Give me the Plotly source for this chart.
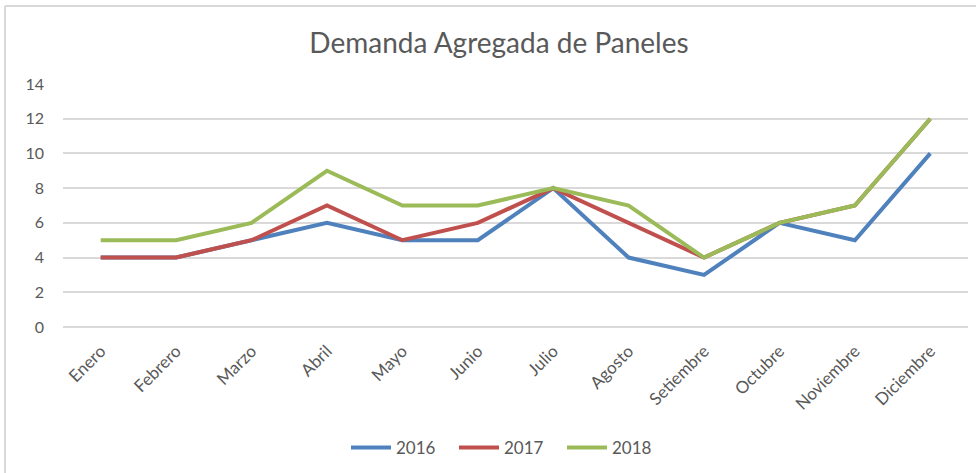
import plotly.graph_objects as go

meses = ["Enero", "Febrero", "Marzo", "Abril", "Mayo", "Junio", "Julio",
         "Agosto", "Setiembre", "Octubre", "Noviembre", "Diciembre"]
d2016 = [4, 4, 5, 6, 5, 5, 8, 4, 3, 6, 5, 10]
d2017 = [4, 4, 5, 7, 5, 6, 8, 6, 4, 6, 7, 12]
d2018 = [5, 5, 6, 9, 7, 7, 8, 7, 4, 6, 7, 12]
series = [("2016", d2016, "#4F81BD"), ("2017", d2017, "#C0504D"), ("2018", d2018, "#9BBB59")]

font_family = "Lato, 'Open Sans', sans-serif"
fig = go.Figure()
for name, vals, col in series:
    fig.add_trace(go.Scatter(x=meses, y=vals, name=name, mode="lines",
                             line=dict(color=col, width=4)))

W, H = 976, 473
l, r, t, b = 63, 8, 84, 146
pw, ph = W - l - r, H - t - b

def px_x(p):
    return (p - l) / pw

def px_y(p):
    return (H - b - p) / ph

fig.update_layout(
    width=W, height=H,
    margin=dict(l=l, r=r, t=t, b=b, autoexpand=False),
    paper_bgcolor="white", plot_bgcolor="white",
    title=dict(text="Demanda Agregada de Paneles", xref="container", x=499 / W, xanchor="center",
               yref="container", y=1 - 43 / H, yanchor="middle",
               font=dict(family=font_family, size=28, color="#595959")),
    font=dict(family=font_family, color="#595959", size=15),
    xaxis=dict(range=[-0.5, 11.5], tickangle=-45, showgrid=False, showline=False,
               ticks="", ticklabelstandoff=10, tickfont=dict(size=17, color="#595959")),
    yaxis=dict(range=[0, 14], dtick=2, showgrid=True, gridcolor="#D9D9D9",
               gridwidth=1.5, zeroline=True, zerolinecolor="#D9D9D9", zerolinewidth=1.5,
               showline=False, ticks="", ticklabelstandoff=18,
               tickfont=dict(size=16, color="#595959")),
    legend=dict(orientation="h", x=px_x(346), xanchor="left", y=px_y(448), yanchor="middle",
                font=dict(size=17, color="#595959"), entrywidth=53, entrywidthmode="pixels",
                itemwidth=40),
    showlegend=True,
)

fig.add_shape(type="line", xref="paper", yref="paper",
              x0=px_x(5), x1=px_x(5), y0=px_y(6), y1=px_y(480),
              line=dict(color="#D9D9D9", width=2))
fig.add_shape(type="line", xref="paper", yref="paper",
              x0=px_x(5), x1=px_x(980), y0=px_y(6), y1=px_y(6),
              line=dict(color="#D9D9D9", width=2))

fig.write_html("out.html", config={"displayModeBar": False},
               post_script="document.body.style.margin='0';document.body.style.overflow='hidden';")
